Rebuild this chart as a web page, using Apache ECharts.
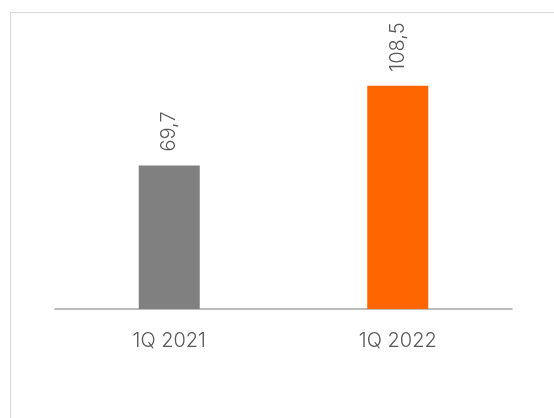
<!DOCTYPE html>
<html>
<head>
<meta charset="utf-8">
<script src="https://cdn.jsdelivr.net/npm/echarts@6/dist/echarts.min.js"></script>
<style>
html,body{margin:0;padding:0;background:#fff;overflow:hidden}
#frame{position:absolute;left:10px;top:12px;width:600px;height:500px;border-left:1px solid #d9d9d9;border-top:1px solid #d9d9d9;box-sizing:border-box}
#c{position:absolute;left:0;top:0;width:554px;height:418px}
</style>
</head>
<body>
<div id="frame"></div>
<div id="c"></div>
<script>
const categories = ['1Q 2021', '1Q 2022'];
const values = [69.7, 108.5];
const barColors = ['#808080', '#FF6600'];

const chart = echarts.init(document.getElementById('c'), null, {renderer: 'canvas'});
chart.setOption({
  animation: false,
  grid: {left: 55, right: 42, top: 62, bottom: 109},
  xAxis: {
    type: 'category',
    data: categories,
    axisLine: {lineStyle: {color: '#A6A6A6', width: 1.5}},
    axisTick: {show: false},
    axisLabel: {color: '#595959', fontSize: 20, fontWeight: 300, fontFamily: 'Inter', margin: 22}
  },
  yAxis: {
    type: 'value',
    min: 0,
    max: 120,
    show: false,
    splitLine: {show: false}
  },
  series: [{
    type: 'bar',
    barWidth: '26.7%',
    data: values.map((v, i) => ({value: v, itemStyle: {color: barColors[i]}})),
    label: {
      show: true,
      position: 'top',
      rotate: 90,
      align: 'left',
      verticalAlign: 'middle',
      distance: 14,
      color: '#595959',
      fontSize: 20,
      fontWeight: 300,
      fontFamily: 'Inter',
      formatter: p => String(p.value).replace('.', ',')
    }
  }]
});
</script>
</body>
</html>
